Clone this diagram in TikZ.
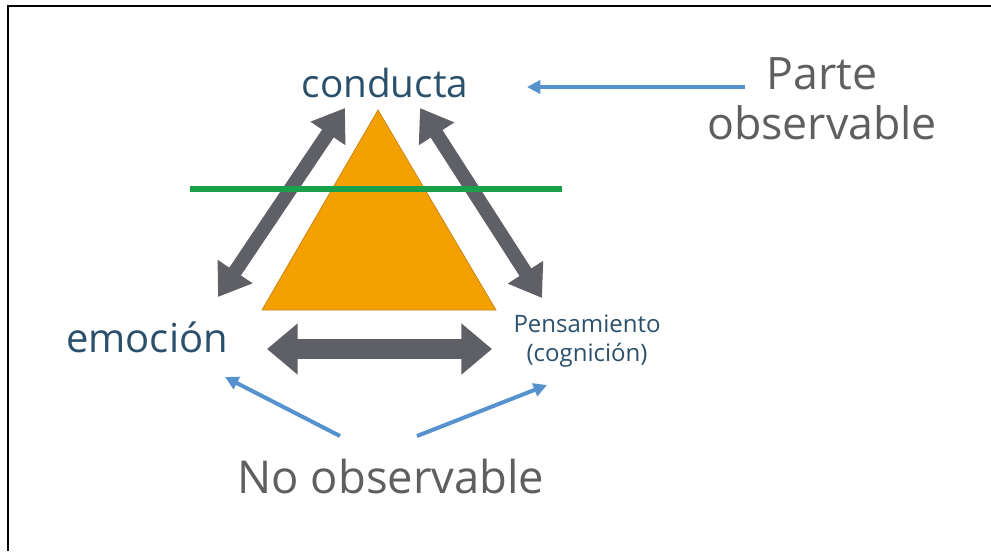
\documentclass[tikz,border=0pt]{standalone}
\usepackage{fontspec}
\setmainfont{Open Sans}
\usepackage{xcolor}
\definecolor{cornerblue}{RGB}{43,80,107}
\definecolor{notegrey}{RGB}{95,95,95}
\definecolor{linkgrey}{RGB}{95,95,102}
\definecolor{pyramid}{RGB}{243,160,0}
\definecolor{pyramidline}{RGB}{200,135,20}
\definecolor{cutgreen}{RGB}{24,160,74}
\definecolor{hintblue}{RGB}{86,146,206}
\usetikzlibrary{arrows.meta}
\usetikzlibrary{calc}

\begin{document}
\begin{tikzpicture}[x=0.75pt, y=-0.75pt,
  cornertext/.style={inner sep=0pt, text=cornerblue},
  notetext/.style={inner sep=0pt, text=notegrey},
  twoway/.style={draw=linkgrey, line width=10.5pt, {Triangle[length=23pt,width=30pt]}-{Triangle[length=23pt,width=30pt]}},
  hint/.style={draw=hintblue, line width=3pt, -{Triangle[length=10pt,width=10pt]}}]

  \useasboundingbox (0,0) rectangle (991,551);
  \draw[line width=2pt] (8,551) -- (8,6) -- (991,6);

  % triangle
  \coordinate (apex) at (378,110);
  \coordinate (baseL) at (262,310);
  \coordinate (baseR) at (496,310);
  \filldraw[fill=pyramid, draw=pyramidline, line width=0.6pt] (apex) -- (baseR) -- (baseL) -- cycle;

  % texts
  \node[cornertext, font=\fontsize{29}{35}\selectfont, anchor=base] (conducta) at (385,97) {conducta};
  \node[cornertext, font=\fontsize{30}{36}\selectfont, anchor=base] (emocion) at (147,352) {emoción};
  \node[cornertext, font=\fontsize{18}{21.75}\selectfont, align=center] (pensamiento) at (587,341) {Pensamiento\\(cognición)};
  \node[notetext, font=\fontsize{33.5}{37.5}\selectfont, align=center] (parte) at (822,99) {Parte\\observable};
  \node[notetext, font=\fontsize{34}{40}\selectfont, anchor=base] (noobs) at (391,493) {No observable};

  % grey two-way arrows
  \coordinate (ceTop) at (345,108);
  \coordinate (ceBot) at (218,297);
  \coordinate (cpTop) at (420,108);
  \coordinate (cpBot) at (542,298);
  \coordinate (epL) at (267,349);
  \coordinate (epR) at (492,349);
  \draw[twoway] (ceTop) -- (ceBot);
  \draw[twoway] (cpTop) -- (cpBot);
  \draw[twoway, line width=14.5pt, {Triangle[length=23pt,width=37pt]}-{Triangle[length=23pt,width=37pt]}] (epL) -- (epR);

  % observable cut
  \draw[cutgreen, line width=4.5pt] (190,189) -- (562,189);

  % blue pointers
  \coordinate (parteTail) at (745,87);
  \coordinate (parteTip) at (527,87);
  \coordinate (noL) at (340,436);
  \coordinate (noLtip) at (225,377);
  \coordinate (noR) at (417,436);
  \coordinate (noRtip) at (547,385);
  \draw[hint] (parteTail) -- (parteTip);
  \draw[hint] (noL) -- (noLtip);
  \draw[hint] (noR) -- (noRtip);

\end{tikzpicture}
\end{document}
